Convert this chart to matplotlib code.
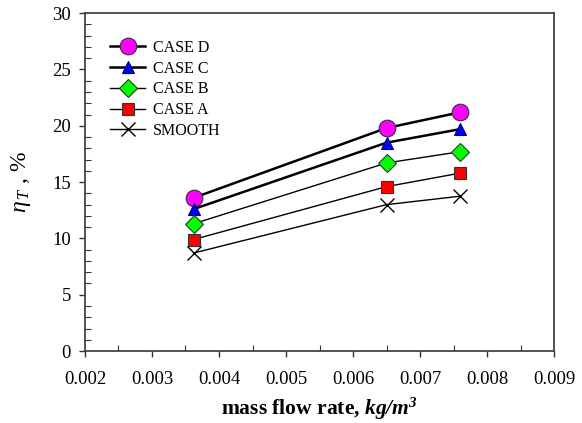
import matplotlib
matplotlib.use("Agg")
import matplotlib.pyplot as plt
from matplotlib.ticker import MultipleLocator, FormatStrFormatter

plt.rcParams['font.family'] = ['Liberation Serif', 'DejaVu Serif']
plt.rcParams['mathtext.fontset'] = 'custom'
plt.rcParams['mathtext.rm'] = 'Liberation Serif'
plt.rcParams['mathtext.it'] = 'Liberation Serif:italic'
plt.rcParams['mathtext.bf'] = 'Liberation Serif:bold'
plt.rcParams['mathtext.bfit'] = 'Liberation Serif:bold:italic'

x = [0.00362, 0.0065, 0.0076]
case_d = [13.6, 19.8, 21.2]
case_c = [12.6, 18.5, 19.7]
case_b = [11.3, 16.7, 17.7]
case_a = [9.9, 14.6, 15.8]
smooth = [8.7, 13.0, 13.75]

fig = plt.figure(figsize=(5.82, 4.23), dpi=100)
ax = fig.add_axes([0.146, 0.170, 0.806, 0.799])

ax.plot(x, case_d, '-', color='black', lw=1.8, marker='o', ms=12,
        mfc='#ff00ff', mec='#333333', mew=0.8, label='CASE D')
ax.plot(x, case_c, '-', color='black', lw=1.8, marker='^', ms=9,
        mfc='#0000ff', mec='#000066', mew=0.8, label='CASE C')
ax.plot(x, case_b, '-', color='black', lw=1.0, marker='D', ms=9,
        mfc='#00ff00', mec='#333333', mew=0.8, label='CASE B')
ax.plot(x, case_a, '-', color='black', lw=1.0, marker='s', ms=9,
        mfc='#ff0000', mec='#333333', mew=0.8, label='CASE A')
ax.plot(x, smooth, '-', color='black', lw=1.0, marker='x', ms=10,
        mec='black', mew=1.0, label='SMOOTH')

ax.set_xlim(0.002, 0.009)
ax.set_ylim(0, 30)
ax.xaxis.set_major_locator(MultipleLocator(0.001))
ax.xaxis.set_minor_locator(MultipleLocator(0.0005))
ax.yaxis.set_major_locator(MultipleLocator(5))
ax.yaxis.set_minor_locator(MultipleLocator(1))
ax.xaxis.set_major_formatter(FormatStrFormatter('%.3f'))
ax.tick_params(which='major', direction='out', length=4, width=1,
               labelsize=13.5, pad=6, color='#333333')
ax.tick_params(axis='x', which='major', pad=10)
ax.tick_params(which='minor', direction='in', length=4, width=0.8,
               color='#333333')
for s in ax.spines.values():
    s.set_linewidth(1.3)
    s.set_color('#444444')

ax.set_ylabel(r'$\eta_{\,T}$ , %', fontsize=17, labelpad=14)
ax.set_xlabel(r'mass flow rate, $\mathbfit{kg/m^3}$', fontsize=15.5,
              fontweight='bold', labelpad=6)

leg = ax.legend(loc='upper left', bbox_to_anchor=(0.04, 0.94), frameon=False,
                fontsize=11.5, handlelength=2.2, labelspacing=0.3,
                handletextpad=0.5, borderaxespad=0)

fig.savefig('out.png', dpi=100)
